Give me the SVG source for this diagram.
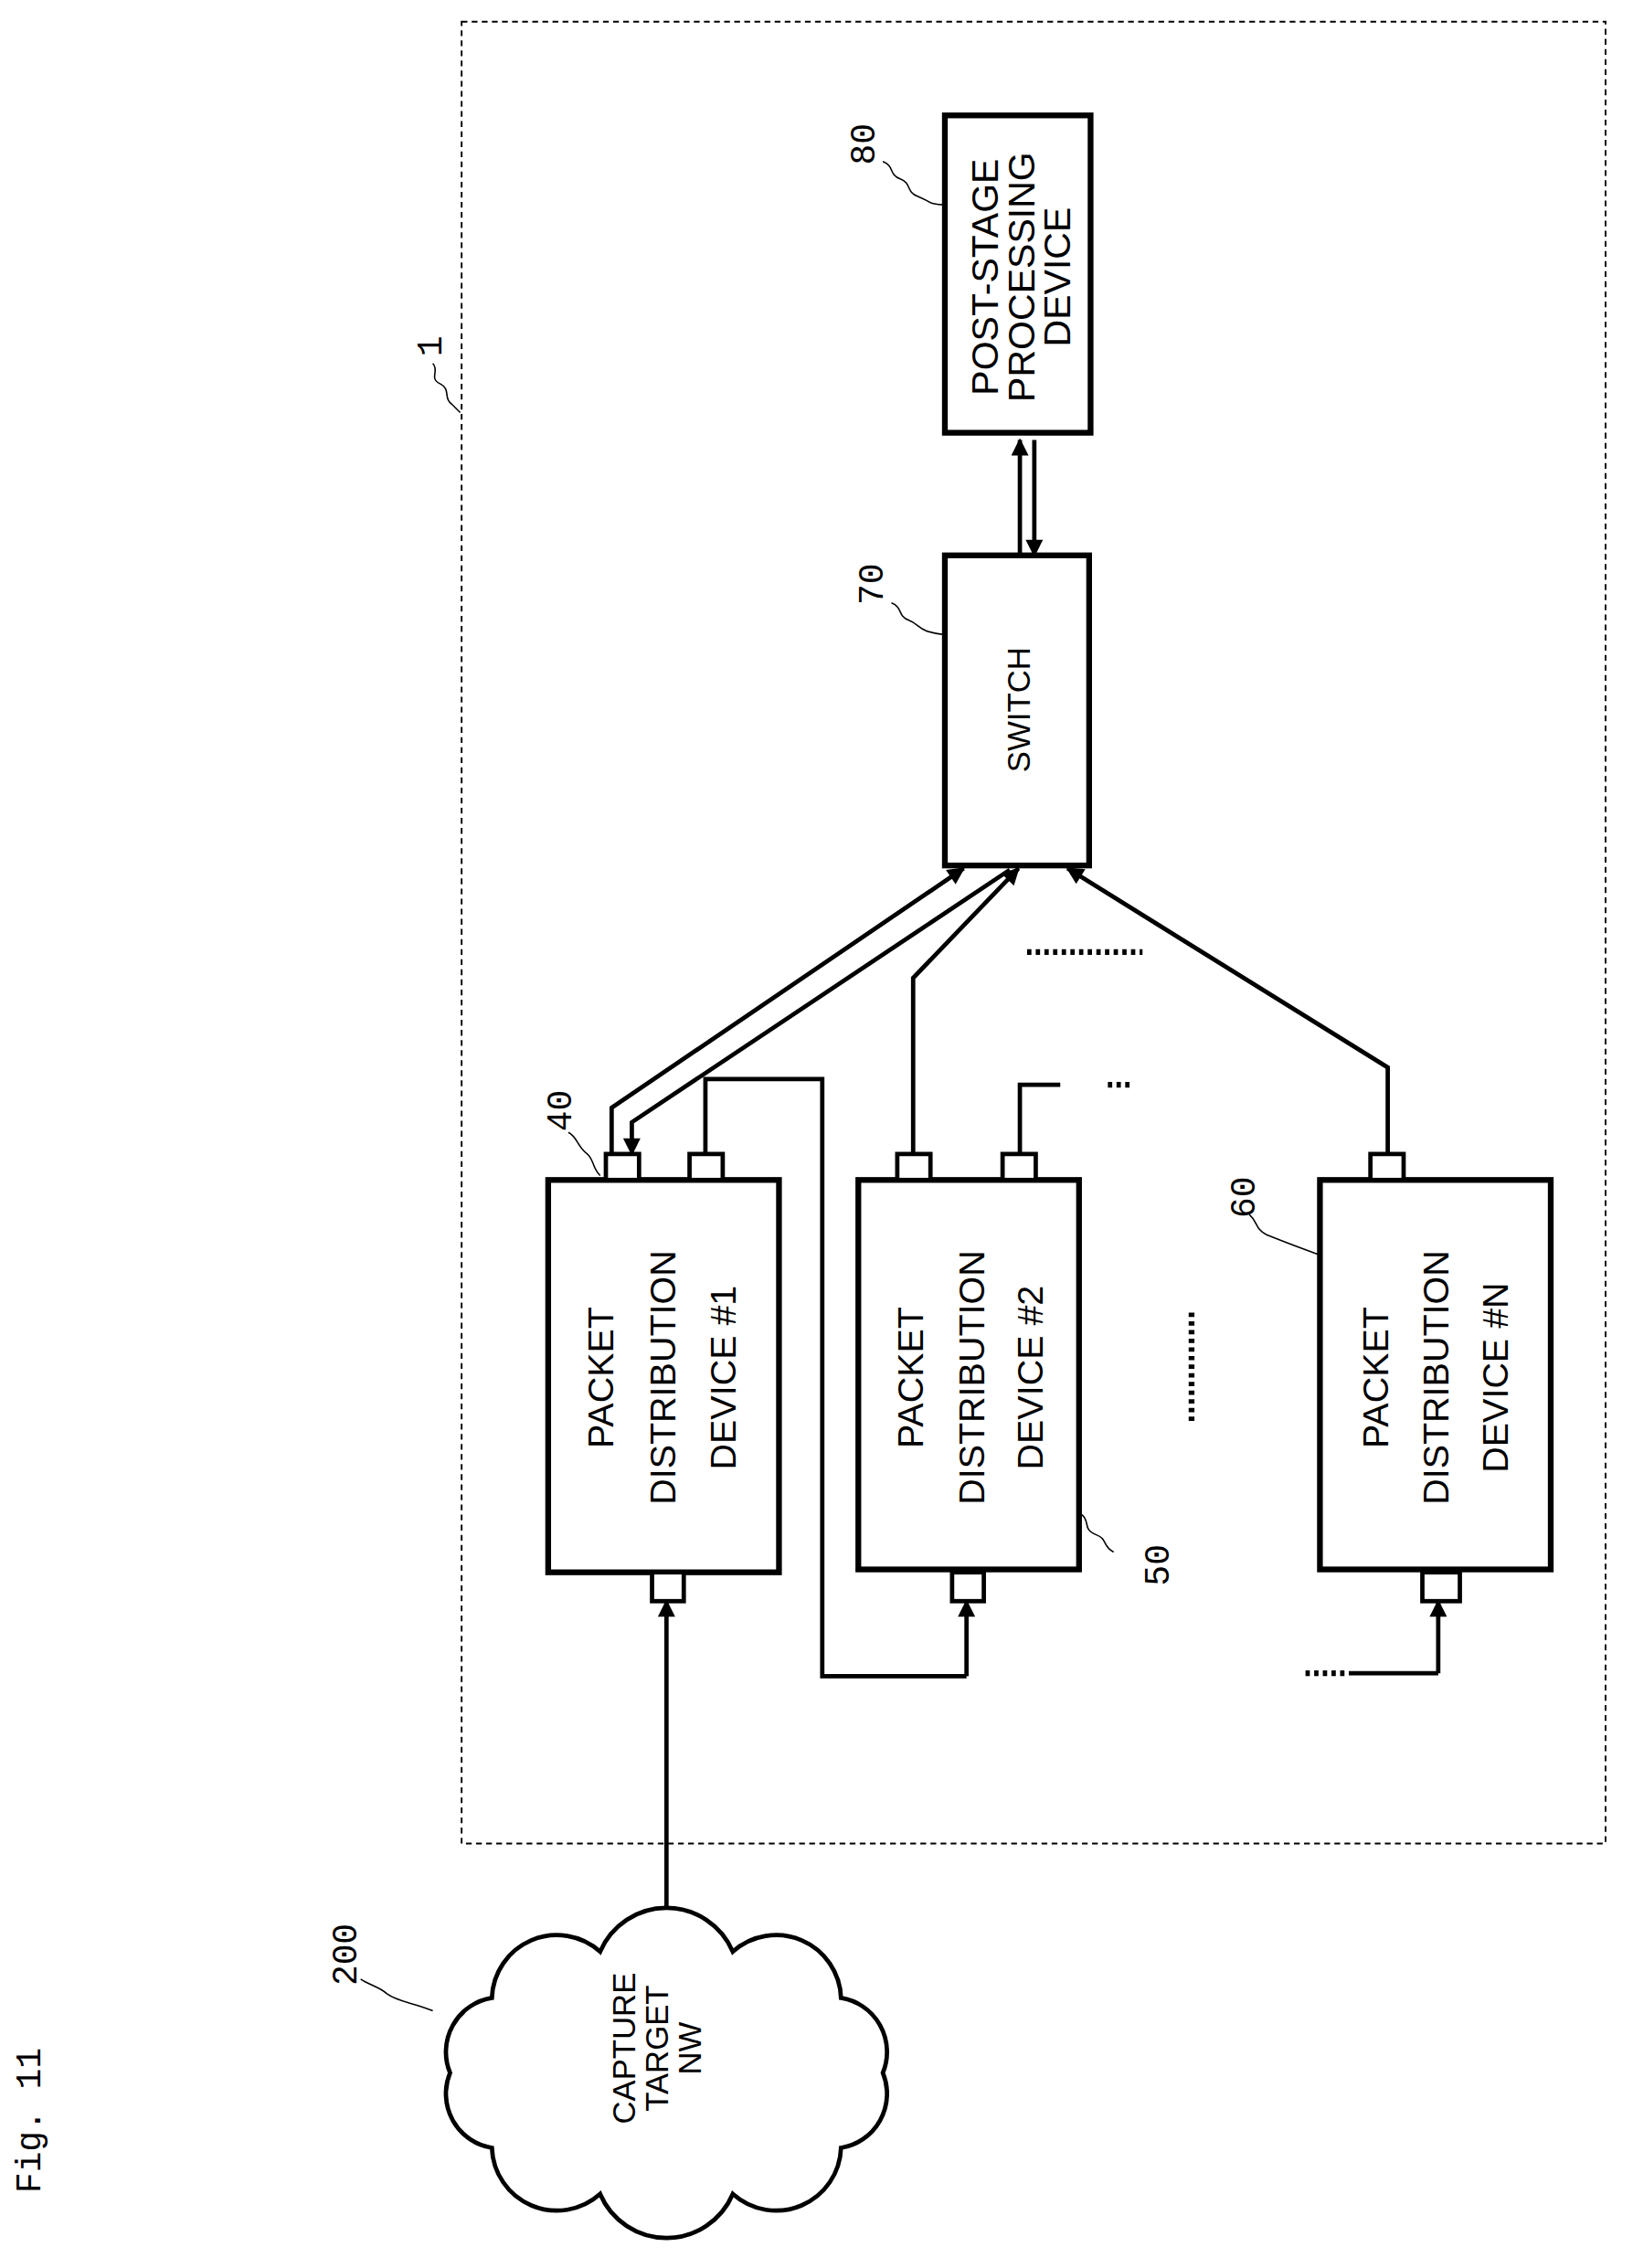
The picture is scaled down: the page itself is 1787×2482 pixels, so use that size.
<svg xmlns="http://www.w3.org/2000/svg" width="1787" height="2482" viewBox="0 0 1787 2482">
<style>
.bx{fill:#fff;stroke:#000;stroke-width:4}
.pt{fill:#fff;stroke:#000;stroke-width:3}
.ln{fill:none;stroke:#000;stroke-width:3}
.ld{fill:none;stroke:#000;stroke-width:1}
.t{font-family:"Liberation Sans",Arial,sans-serif;fill:#000;text-anchor:middle}
.n{font-family:"Liberation Mono","Courier New",monospace;fill:#000;font-size:24px;text-anchor:middle}
.dot{fill:none;stroke:#000;stroke-width:4;stroke-dasharray:3,3}
</style>
<defs>
<marker id="ah" viewBox="0 0 10 10" refX="9" refY="5" markerWidth="5" markerHeight="4" orient="auto" markerUnits="strokeWidth"><path d="M0,0L10,5L0,10z" fill="#000"/></marker>
</defs>
<rect width="1787" height="2482" fill="#fff"/>
<g transform="scale(1.5786)">
<text class="n" transform="translate(28,1470) rotate(-90)" font-size="20">Fig. 11</text>
<g id="system1">
<rect x="320" y="15" width="793" height="1263" fill="none" stroke="#000" stroke-width="1.2" stroke-dasharray="4,3"/>
<text class="n" transform="translate(306,240) rotate(-90)">1</text>
<path class="ld" d="M300,252 c5,5 -3,10 5,14 c8,4 2,10 8,14 l6,6"/>
</g>
<g id="connectors">
<path class="ln" marker-end="url(#ah)" d="M707,385 L707,305"/>
<path class="ln" marker-end="url(#ah)" d="M717,305 L717,385"/>
<path class="ln" marker-end="url(#ah)" d="M424,800 L424,768 L668,602"/>
<path class="ln" marker-end="url(#ah)" d="M700,603 L438,778 L438,800"/>
<path class="ln" d="M489,800 L489,748 L570,748 L570,1162 L670,1162"/>
<path class="ln" marker-end="url(#ah)" d="M670,1162 L670,1110"/>
<path class="ln" marker-end="url(#ah)" d="M633,800 L633,678 L706,602"/>
<path class="ln" d="M707,800 L707,752 L735,752"/>
<path class="ln" marker-end="url(#ah)" d="M962,800 L962,740 L740,602"/>
<path class="ln" d="M935,1160 L997,1160"/>
<path class="ln" marker-end="url(#ah)" d="M997,1160 L997,1110"/>
<path class="ln" marker-end="url(#ah)" d="M462,1335 L462,1110"/>
<path class="dot" d="M712,660 L792,660"/>
<path class="dot" d="M768,752 L786,752"/>
<path class="dot" d="M826,910 L826,986"/>
<path class="dot" d="M905,1160 L935,1160"/>
</g>
<g id="post80">
<rect class="bx" x="655" y="80" width="101" height="220"/>
<text class="t" font-size="26" transform="translate(692,192) rotate(-90)">POST-STAGE</text>
<text class="t" font-size="26" transform="translate(717,192) rotate(-90)">PROCESSING</text>
<text class="t" font-size="26" transform="translate(742,192) rotate(-90)">DEVICE</text>
<text class="n" transform="translate(606,100) rotate(-90)">80</text>
<path class="ld" d="M612,112 c8,3 4,9 12,12 c8,3 4,9 12,12 c8,3 8,6 19,6"/>
</g>
<g id="switch70">
<rect class="bx" x="655" y="385" width="100" height="215"/>
<text class="t" font-size="22" transform="translate(714,492) rotate(-90)">SWITCH</text>
<text class="n" transform="translate(612,405) rotate(-90)">70</text>
<path class="ld" d="M618,418 c8,3 4,9 12,12 c8,3 6,8 25,10"/>
</g>
<g id="pd40">
<rect class="bx" x="380" y="818" width="160" height="272"/>
<rect class="pt" x="420" y="800" width="23" height="18"/>
<rect class="pt" x="478" y="800" width="23" height="18"/>
<rect class="pt" x="452" y="1090" width="22" height="20"/>
<text class="t" font-size="25" transform="translate(425,955) rotate(-90)">PACKET</text>
<text class="t" font-size="25" transform="translate(468,955) rotate(-90)">DISTRIBUTION</text>
<text class="t" font-size="25" transform="translate(510,955) rotate(-90)">DEVICE #1</text>
<text class="n" transform="translate(396,770) rotate(-90)">40</text>
<path class="ld" d="M394,785 c6,3 6,9 12,14 c6,4 4,10 10,16"/>
</g>
<g id="pd50">
<rect class="bx" x="595" y="818" width="153" height="270"/>
<rect class="pt" x="622" y="800" width="23" height="18"/>
<rect class="pt" x="695" y="800" width="23" height="18"/>
<rect class="pt" x="660" y="1090" width="22" height="20"/>
<text class="t" font-size="25" transform="translate(640,955) rotate(-90)">PACKET</text>
<text class="t" font-size="25" transform="translate(682,955) rotate(-90)">DISTRIBUTION</text>
<text class="t" font-size="25" transform="translate(723,955) rotate(-90)">DEVICE #2</text>
<text class="n" transform="translate(810,1085) rotate(-90)">50</text>
<path class="ld" d="M750,1050 c6,5 0,10 10,14 c8,3 4,8 12,12"/>
</g>
<g id="pd60">
<rect class="bx" x="915" y="818" width="160" height="270"/>
<rect class="pt" x="950" y="800" width="23" height="18"/>
<rect class="pt" x="986" y="1090" width="26" height="20"/>
<text class="t" font-size="25" transform="translate(962,955) rotate(-90)">PACKET</text>
<text class="t" font-size="25" transform="translate(1004,955) rotate(-90)">DISTRIBUTION</text>
<text class="t" font-size="25" transform="translate(1045,955) rotate(-90)">DEVICE #N</text>
<text class="n" transform="translate(870,830) rotate(-90)">60</text>
<path class="ld" d="M866,842 c6,5 4,10 12,14 c10,4 20,8 37,14"/>
</g>
<g id="cloud200">
<path fill="#fff" stroke="#000" stroke-width="3" d="M612,1437 A38,38 0 0 1 583,1489 A45,45 0 0 1 508,1521 A50,50 0 0 1 416,1521 A45,45 0 0 1 341,1489 A38,38 0 0 1 312,1437 A38,38 0 0 1 341,1385 A45,45 0 0 1 416,1353 A50,50 0 0 1 508,1353 A45,45 0 0 1 583,1385 A38,38 0 0 1 612,1437 Z"/>
<text class="t" font-size="22" transform="translate(440,1420) rotate(-90)">CAPTURE</text>
<text class="t" font-size="22" transform="translate(463,1420) rotate(-90)">TARGET</text>
<text class="t" font-size="22" transform="translate(486,1420) rotate(-90)">NW</text>
<text class="n" transform="translate(247,1355) rotate(-90)">200</text>
<path class="ld" d="M250,1372 c6,4 14,6 18,10 c8,6 18,6 32,12"/>
</g>
</g>
</svg>
